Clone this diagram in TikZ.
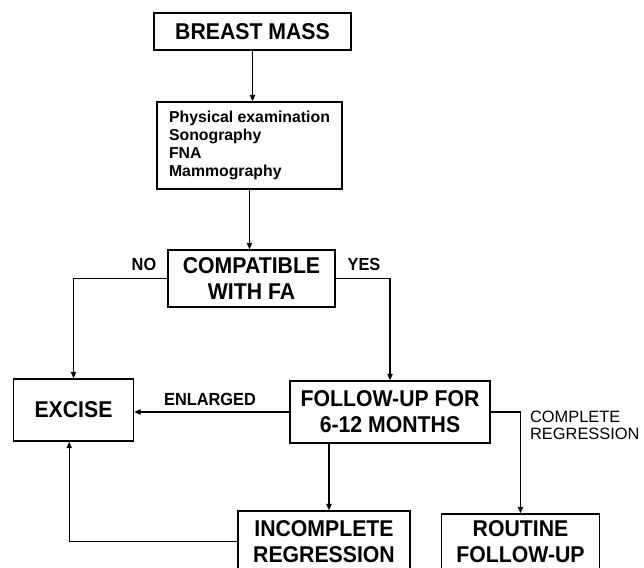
\documentclass[tikz,border=0pt]{standalone}
\usepackage{fontspec}
\setsansfont{Liberation Sans}
\newfontfamily\condsans[FakeStretch=0.93]{Liberation Sans}
\usetikzlibrary{arrows.meta,positioning,calc}

\begin{document}
\begin{tikzpicture}[
  x=0.3mm,
  y=-0.3mm,
  font=\sffamily\bfseries,
  >={Triangle[length=5.5pt,width=4.5pt]},
  flow/.style={->, line width=1.1pt, draw=black},
  box/.style={draw=black, line width=1.2pt, fill=white, align=center, inner sep=2pt},
  big/.style={box, font=\condsans\bfseries\fontsize{19.5}{22}\selectfont},
  note/.style={font=\condsans\bfseries\fontsize{15}{17}\selectfont},
  tag/.style={font=\sffamily\fontsize{14}{15}\selectfont, align=left}
]

\clip (0,0) rectangle (644,568);
\fill[white] (0,0) rectangle (644,568);

\node[big, minimum width=59.1mm, minimum height=11.1mm] (mass) at (252.5,31.3) {BREAST MASS};
\node[box, minimum width=55.5mm, minimum height=26.1mm, align=left,
  font=\sffamily\bfseries\fontsize{13.5}{15.3}\selectfont] (exam) at (249.5,145.5)
  {Physical examination\\Sonography\\FNA\\Mammography};
\node[big, minimum width=50.1mm, minimum height=17.1mm] (compat) at (251.5,278.5)
  {COMPATIBLE\\WITH FA};
\node[big, minimum width=36mm, minimum height=18.6mm] (excise) at (73.5,410) {EXCISE};
\node[big, minimum width=60mm, minimum height=18.6mm] (follow) at (390,412)
  {FOLLOW-UP FOR\\6-12 MONTHS};
\node[big, minimum width=51.6mm, minimum height=18.3mm] (incomp) at (324,541.5)
  {INCOMPLETE\\REGRESSION};
\node[big, minimum width=47.4mm, minimum height=16.5mm] (routine) at (520.5,541.5)
  {ROUTINE\\FOLLOW-UP};

\draw[flow] (mass.south) -- (mass.south |- exam.north);
\draw[flow] (exam.south) -- (exam.south |- compat.north);
\draw[flow] (compat.west) -| (excise.north);
\draw[flow] (compat.east) -| (follow.north);
\draw[flow] (follow.west) -- (follow.west -| excise.east);
\draw[flow] (follow.east) -| (routine.north);
\draw[flow] ([xshift=1.5mm]incomp.north |- follow.south) -- ([xshift=1.5mm]incomp.north);
\draw[flow] (incomp.west) -| ([xshift=-1.3mm]excise.south);

\node[note] (no) at (144,264) {NO};
\node[note] (yes) at (364,264) {YES};
\node[note] (enl) at (210,399) {ENLARGED};
\node[tag, anchor=west] (compl) at (526,425.5) {COMPLETE\\REGRESSION};

\end{tikzpicture}
\end{document}
